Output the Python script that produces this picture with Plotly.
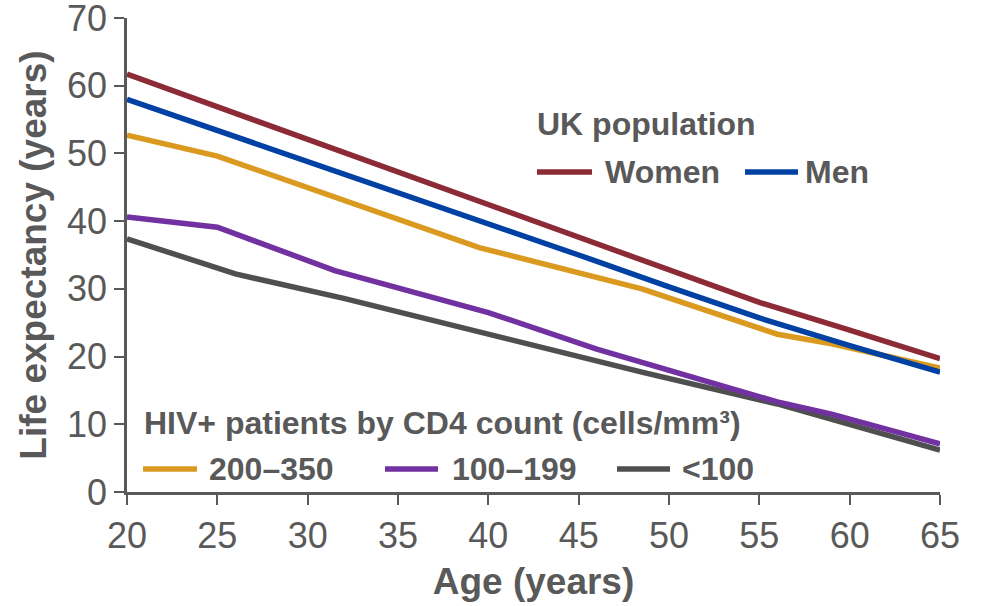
import plotly.graph_objects as go

# Remaining life expectancy by current age
women_age = [20, 25, 30, 35, 40, 45, 50, 55, 60, 65]
women_le = [61.7, 56.9, 52.1, 47.3, 42.5, 37.7, 32.9, 28.0, 23.9, 19.7]

men_age = [20, 25, 30, 35, 40, 45, 50, 55, 60, 65]
men_le = [58.0, 53.4, 48.8, 44.2, 39.8, 35.0, 30.3, 25.7, 21.6, 17.7]

cd4_200_350_age = [20, 25, 39.5, 48.5, 56, 59, 65]
cd4_200_350_le = [52.7, 49.6, 36.1, 30.0, 23.3, 21.9, 18.3]

cd4_100_199_age = [20, 25, 31.5, 40, 46, 56, 59, 65]
cd4_100_199_le = [40.6, 39.1, 32.7, 26.5, 21.1, 13.3, 11.5, 7.1]

cd4_lt100_age = [20, 26, 32, 40.5, 48.5, 56, 65]
cd4_lt100_le = [37.4, 32.2, 28.6, 22.9, 17.7, 13.0, 6.2]

x_ticks = [20, 25, 30, 35, 40, 45, 50, 55, 60, 65]
y_ticks = [0, 10, 20, 30, 40, 50, 60, 70]

C_WOMEN = "#8C2A36"
C_MEN = "#0041A3"
C_200 = "#DA9A1F"
C_100 = "#7131A1"
C_LT100 = "#4F4F4F"
TEXT = "#595959"
FONT = "Liberation Sans, Arial, sans-serif"

W, H = 981, 606
ML, MR, MT, MB = 127, 41, 18, 114
PW, PH = W - ML - MR, H - MT - MB

series = [
    ("Women", women_age, women_le, C_WOMEN),
    ("Men", men_age, men_le, C_MEN),
    ("200–350", cd4_200_350_age, cd4_200_350_le, C_200),
    ("100–199", cd4_100_199_age, cd4_100_199_le, C_100),
    ("<100", cd4_lt100_age, cd4_lt100_le, C_LT100),
]

fig = go.Figure()
# draw lower lines first so the UK lines sit on top
for name, xs, ys, col in reversed(series):
    fig.add_trace(go.Scatter(
        x=xs, y=ys, mode="lines", name=name, showlegend=False,
        line=dict(color=col, width=5.5),
        hoverinfo="skip",
    ))


def px_x(p):
    return (p - ML) / PW


def px_y(p):
    return (H - MB - p) / PH


annotations = []
shapes = []
KEY_SIZE = 32


def legend_entry(x0, x1, y, col, label, tx):
    shapes.append(dict(type="line", xref="paper", yref="paper",
                       x0=px_x(x0), x1=px_x(x1), y0=px_y(y), y1=px_y(y),
                       line=dict(color=col, width=5.5)))
    annotations.append(dict(xref="paper", yref="paper", x=px_x(tx), y=px_y(y),
                            xanchor="left", yanchor="middle", showarrow=False,
                            text="<b>%s</b>" % label,
                            font=dict(family=FONT, size=KEY_SIZE, color=TEXT)))


# UK population key
annotations.append(dict(xref="paper", yref="paper", x=px_x(535), y=px_y(124),
                        xanchor="left", yanchor="middle", showarrow=False,
                        text="<b>UK population</b>",
                        font=dict(family=FONT, size=KEY_SIZE, color=TEXT)))
legend_entry(537, 592, 172, C_WOMEN, "Women", 603)
legend_entry(745, 798, 172, C_MEN, "Men", 803)

# HIV+ key
annotations.append(dict(xref="paper", yref="paper", x=px_x(142), y=px_y(423),
                        xanchor="left", yanchor="middle", showarrow=False,
                        text="<b>HIV+ patients by CD4 count (cells/mm³)</b>",
                        font=dict(family=FONT, size=KEY_SIZE, color=TEXT)))
legend_entry(143, 197, 469, C_200, "200–350", 207)
legend_entry(385, 438, 469, C_100, "100–199", 450)
legend_entry(617, 670, 469, C_LT100, "&lt;100", 680)

axis_common = dict(
    showline=True, linecolor=TEXT, linewidth=2.5,
    ticks="outside", ticklen=10, tickwidth=2, tickcolor=TEXT,
    showgrid=False, zeroline=False,
    tickfont=dict(family=FONT, size=36, color=TEXT),
    ticklabeloverflow="allow",
    automargin=False,
)

fig.update_layout(
    width=W, height=H,
    margin=dict(l=ML, r=MR, t=MT, b=MB),
    paper_bgcolor="white", plot_bgcolor="white",
    xaxis=dict(range=[20, 65], tickvals=x_ticks,
               title=dict(text="<b>Age (years)</b>", standoff=14,
                          font=dict(family=FONT, size=37, color=TEXT)),
               **axis_common),
    yaxis=dict(range=[0, 70], tickvals=y_ticks,
               title=dict(text="<b>Life expectancy (years)</b>", standoff=10,
                          font=dict(family=FONT, size=37, color=TEXT)),
               **axis_common),
    annotations=annotations,
    shapes=shapes,
)

fig.write_html("out.html")
